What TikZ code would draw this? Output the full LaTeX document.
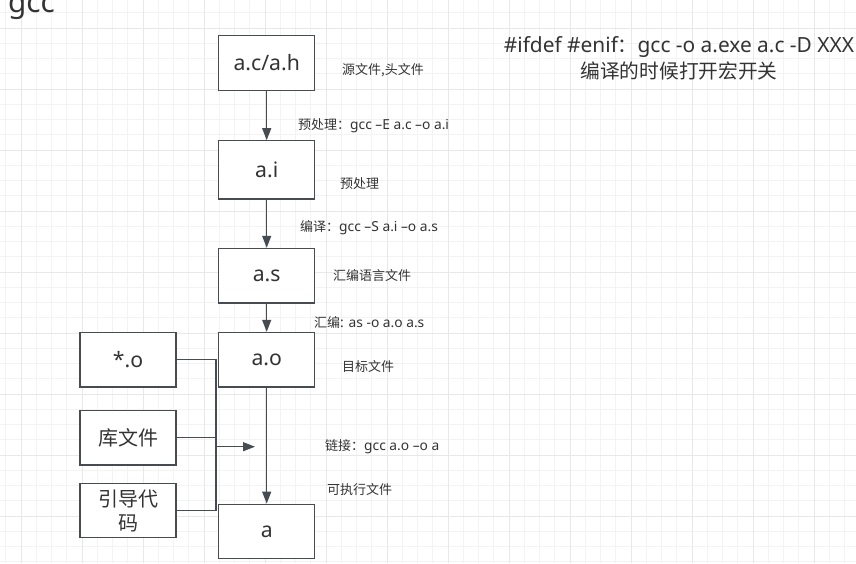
\documentclass[tikz,border=0pt]{standalone}
\usepackage{fontspec}
\setmainfont{Noto Sans}[Scale=1.06]
\newfontfamily\cjk{Noto Sans CJK SC}
\usepackage{xcolor}
\usetikzlibrary{arrows.meta,positioning}
\definecolor{gridminor}{HTML}{F3F3F3}
\definecolor{gridmajor}{HTML}{E8E8E8}
\definecolor{edge}{HTML}{474C52}
\definecolor{ink}{HTML}{333333}

\begin{document}
\begin{tikzpicture}[
        x=1pt, y=-1pt,
        box/.style={rectangle, draw=edge, line width=1.3pt, fill=white, minimum width=96pt, minimum height=54.5pt, text width=80pt, align=center, inner sep=0pt, text=ink, font=\fontsize{20}{24}\selectfont},
        note/.style={anchor=west, inner sep=0pt, text=ink, font=\fontsize{13}{15}\selectfont},
        arrow/.style={line width=1.3pt, draw=edge, -{Triangle[length=12pt,width=9pt]}},
        wire/.style={line width=1.3pt, draw=edge}
    ]
        % Background grid
        \useasboundingbox (0,0) rectangle (856,563);
        \fill[white] (0,0) rectangle (856,563);
        \foreach \k in {-1,...,55} {
            \draw[gridminor, line width=1pt] (21+15.25*\k,0) -- (21+15.25*\k,563);
        }
        \foreach \k in {-10,...,27} {
            \draw[gridminor, line width=1pt] (0,150+15.25*\k) -- (856,150+15.25*\k);
        }
        \foreach \k in {0,...,13} {
            \draw[gridmajor, line width=1pt] (21+61*\k,0) -- (21+61*\k,563);
        }
        \foreach \k in {-2,...,6} {
            \draw[gridmajor, line width=1pt] (0,150+61*\k) -- (856,150+61*\k);
        }

        % Title
        \node[anchor=base west, inner sep=0pt, text=ink, font=\fontsize{28}{32}\selectfont] (title) at (8,12) {gcc};

        % Main chain
        \node[box] (ach) at (266.7,62.9) {a.c/a.h};
        \node[box, minimum height=58.3pt] (ai) at (266.7,169.9) {a.i};
        \node[box] (as) at (266.7,275.7) {a.s};
        \node[box] (ao) at (266.7,359.7) {a.o};
        \node[box] (a) at (266.7,531.5) {a};

        % Extra inputs for linking
        \node[box] (objs) at (128,359.7) {*.o};
        \node[box] (lib) at (128,437.8) {\cjk 库文件};
        \node[box] (boot) at (128,510.5) {\cjk 引导代\\码};

        % Connections
        \draw[arrow] (ach) -- (ai);
        \draw[arrow] (ai) -- (as);
        \draw[arrow] (as) -- (ao);
        \draw[arrow] (ao) -- (a);

        % Link inputs
        \coordinate (join) at (216,446.7);
        \coordinate (tip) at (255,446.7);
        \draw[wire] (objs.east) -| (join);
        \draw[wire] (boot.east) -| (join);
        \draw[wire] (lib.east) -- (lib.east -| join);
        \draw[arrow] (join) -- (tip);

        % Labels
        \node[note] (lach) at (342,70) {\cjk 源文件,头文件};
        \node[note] (lpre) at (298,126) {{\cjk 预处理：}gcc –E a.c –o a.i};
        \node[note] (lai) at (340,184) {\cjk 预处理};
        \node[note] (lcomp) at (300,228) {{\cjk 编译：}gcc –S a.i –o a.s};
        \node[note] (las) at (333,276) {\cjk 汇编语言文件};
        \node[note] (lasm) at (314,322) {{\cjk 汇编}: as -o a.o a.s};
        \node[note] (lao) at (342,367) {\cjk 目标文件};
        \node[note] (llink) at (325,447) {{\cjk 链接：}gcc a.o –o a};
        \node[note] (la) at (327,490) {\cjk 可执行文件};

        % Macro switch note
        \node[inner sep=0pt, align=center, text=ink, font=\fontsize{19.7}{26}\selectfont] (macro) at (679,58) {\#ifdef \#enif{\cjk ：}gcc -o a.exe a.c -D XXX\\{\cjk 编译的时候打开宏开关}};
    \end{tikzpicture}
\end{document}
